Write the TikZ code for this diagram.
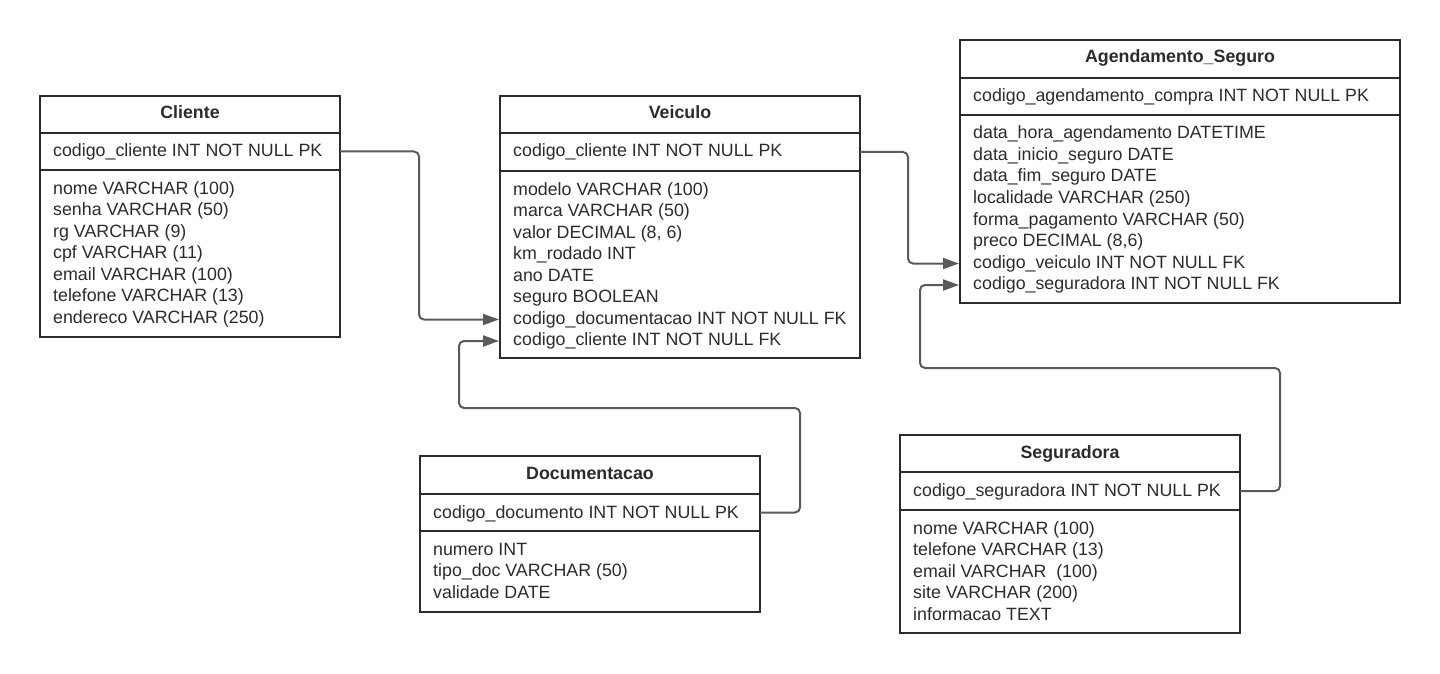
\documentclass[tikz,border=0pt]{standalone}
\usepackage{fontspec}
\setmainfont{Liberation Sans}
\usetikzlibrary{arrows.meta,calc}
\definecolor{ink}{HTML}{2B2B2B}
\definecolor{wire}{HTML}{5A5A5A}
\tikzset{
  box/.style={draw=ink, line width=2pt, inner sep=0pt, outer sep=0pt, anchor=north west},
  ttl/.style={font=\fontsize{17.8}{21.5}\selectfont\bfseries, text=ink, inner sep=0pt, anchor=base},
  row/.style={font=\fontsize{17.8}{21.5}\selectfont, text=ink, inner sep=0pt, anchor=base west, text height=13pt, text depth=4pt},
  conn/.style={draw=wire, line width=2pt, rounded corners=5pt, shorten >=1pt, -{Triangle[length=16pt,width=11pt]}},
}
\newcommand\entity[8]{%
  \node[box, minimum width={#3-#2}, minimum height={#5-#4}] (#1-h) at (#2,#4) {};
  \node[box, minimum width={#3-#2}, minimum height={#6-#5}] (#1-k) at (#2,#5) {};
  \node[box, minimum width={#3-#2}, minimum height={#7-#6}] (#1-b) at (#2,#6) {};
  \node[ttl] (#1-t) at ([yshift=-23pt]#1-h.north) {#8};
}
\newcommand\pkrow[2]{\node[row] (#1-pk) at ([xshift=13pt,yshift=-24pt]#1-k.north west) {#2};}
\newcommand\attrs[2]{\foreach \t [count=\i] in {#2} {\node[row] (#1-a\i) at ([xshift=13pt,yshift={-24pt-(\i-1)*21.5pt}]#1-b.north west) {\t};}}
\begin{document}
\begin{tikzpicture}[x=1pt,y=-1pt]
\useasboundingbox (0,0) rectangle (1440,674);
% Cliente
\entity{cl}{40}{340}{96}{133}{170}{337}{Cliente}
\pkrow{cl}{codigo\_cliente INT NOT NULL PK}
\attrs{cl}{nome VARCHAR (100), senha VARCHAR (50), rg VARCHAR (9), cpf VARCHAR (11), email VARCHAR (100), telefone VARCHAR (13), endereco VARCHAR (250)}
% Veiculo
\entity{ve}{500}{860}{96}{133}{171}{358}{Veiculo}
\pkrow{ve}{codigo\_cliente INT NOT NULL PK}
\attrs{ve}{modelo VARCHAR (100), marca VARCHAR (50), {valor DECIMAL (8, 6)}, km\_rodado INT, ano DATE, seguro BOOLEAN, codigo\_documentacao INT NOT NULL FK, codigo\_cliente INT NOT NULL FK}
% Agendamento_Seguro
\entity{ag}{960}{1400}{40}{78}{115}{303}{Agendamento\_Seguro}
\pkrow{ag}{codigo\_agendamento\_compra INT NOT NULL PK}
\attrs{ag}{data\_hora\_agendamento DATETIME, data\_inicio\_seguro DATE, data\_fim\_seguro DATE, localidade VARCHAR (250), forma\_pagamento VARCHAR (50), {preco DECIMAL (8,6)}, codigo\_veiculo INT NOT NULL FK, codigo\_seguradora INT NOT NULL FK}
% Documentacao
\entity{do}{420}{760}{456}{494}{531}{612}{Documentacao}
\pkrow{do}{codigo\_documento INT NOT NULL PK}
\attrs{do}{numero INT, tipo\_doc VARCHAR (50), validade DATE}
% Seguradora
\entity{se}{900}{1240}{435}{472}{510}{633}{Seguradora}
\pkrow{se}{codigo\_seguradora INT NOT NULL PK}
\attrs{se}{nome VARCHAR (100), telefone VARCHAR (13), email VARCHAR\ \ (100), site VARCHAR (200), informacao TEXT}
% connectors
\coordinate (j1) at (459,408);
\coordinate (j2) at (920,368);
\draw[conn] (cl-k.east) -- ++(79,0) |- (ve-b.west |- ve-a7);
\draw[conn] (ve-k.east) -- ++(48,0) |- (ag-b.west |- ag-a7);
\draw[conn] (do-k.east) -- ++(40,0) |- (j1) |- (ve-b.west |- ve-a8);
\draw[conn] (se-k.east) -- ++(40,0) |- (j2) |- (ag-b.west |- ag-a8);
\end{tikzpicture}
\end{document}
